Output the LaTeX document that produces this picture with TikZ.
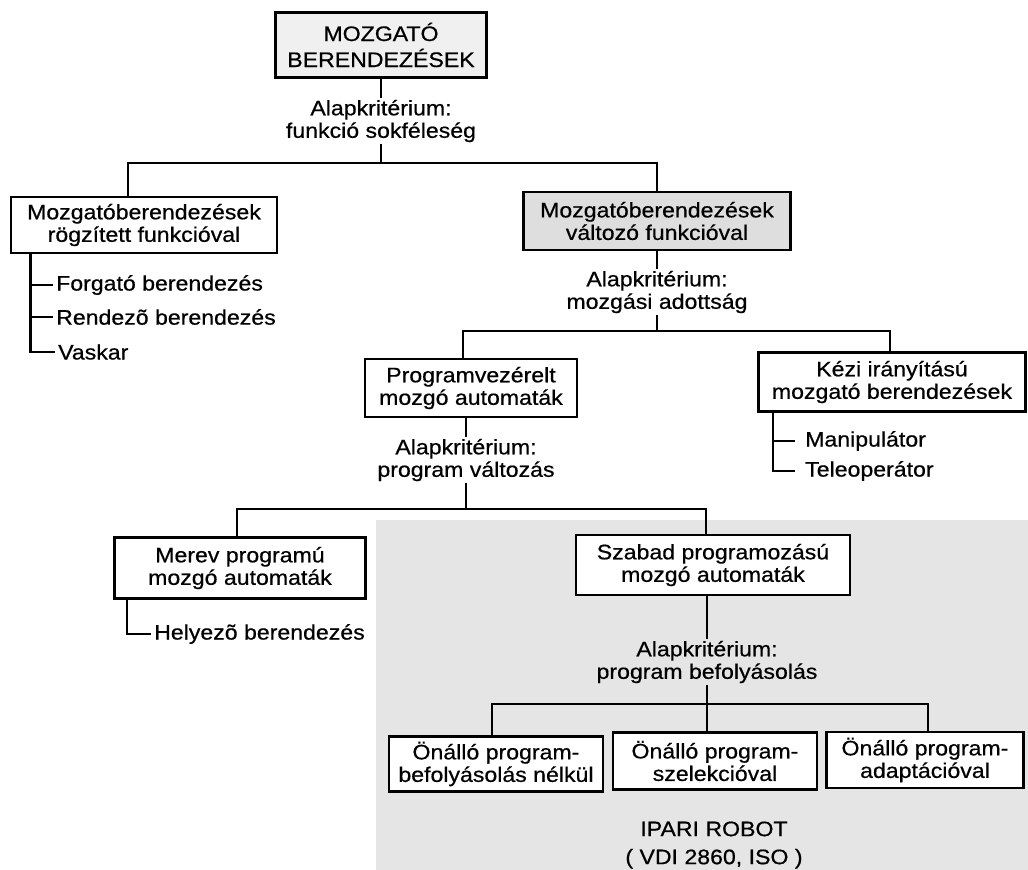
\documentclass[tikz,border=0pt]{standalone}
\usepackage{fontspec}
\setmainfont{Liberation Sans}[FakeStretch=1.1,FakeBold=0.6]
\begin{document}
\begin{tikzpicture}[x=1pt,y=-1pt,
  txt/.style={font=\fontsize{21}{22.5}\selectfont},
  box/.style={draw, line width=2.8pt, align=center, inner sep=0pt, txt, fill=white},
  crit/.style={align=center, inner sep=2pt, txt},
  item/.style={anchor=west, inner sep=3pt, txt},
  conn/.style={line width=2.4pt}]
\useasboundingbox (0,0) rectangle (1028,870);
\fill[white] (0,0) rectangle (1028,870);
\fill[gray!20] (376,520) rectangle (1028,870);

% nodes
\node[box, fill=gray!12, minimum width=211pt, minimum height=65pt,
      font=\fontsize{21}{26}\selectfont] (top) at (381,45) {MOZGATÓ\\BERENDEZÉSEK};
\node[crit] (c1) at (381,121) {Alapkritérium:\\funkció sokféleség};
\coordinate (h1) at (381,163);

\node[box, minimum width=266pt, minimum height=56pt] (rogz) at (144,225)
  {Mozgatóberendezések\\rögzített funkcióval};
\node[box, fill=gray!26, minimum width=267pt, minimum height=58pt] (valt) at (657,221)
  {Mozgatóberendezések\\változó funkcióval};

\node[item] (f1) at (53,285) {Forgató berendezés};
\node[item] (f2) at (53,317) {Rendezõ berendezés};
\node[item] (f3) at (55,352) {Vaskar};
\coordinate (tr1) at ([xshift=21pt]rogz.south west);

\node[crit] (c2) at (657,292) {Alapkritérium:\\mozgási adottság};
\coordinate (h2) at (657,331);

\node[box, minimum width=212pt, minimum height=58pt] (prog) at (471,388)
  {Programvezérelt\\mozgó automaták};
\node[box, minimum width=267pt, minimum height=59pt] (kezi) at (892,382)
  {Kézi irányítású\\mozgató berendezések};

\node[item, inner sep=10pt] (m1) at (795,441) {Manipulátor};
\node[item, inner sep=10pt] (m2) at (795,471) {Teleoperátor};
\coordinate (tr2) at ([xshift=16pt]kezi.south west);

\node[crit] (c3) at (466,460) {Alapkritérium:\\program változás};
\coordinate (h3) at (466,509);

\node[box, minimum width=251pt, minimum height=61pt] (merev) at (240,568)
  {Merev programú\\mozgó automaták};
\node[box, minimum width=274pt, minimum height=60pt] (szab) at (713,565)
  {Szabad programozású\\mozgó automaták};

\node[item] (hly) at (151,634) {Helyezõ berendezés};
\coordinate (tr3) at ([xshift=14pt]merev.south west);

\node[crit] (c4) at (707,662) {Alapkritérium:\\program befolyásolás};
\coordinate (h4) at (707,704);

\node[box, minimum width=214pt, minimum height=55pt] (b1) at (496,764)
  {Önálló program-\\befolyásolás nélkül};
\node[box, minimum width=204pt, minimum height=57pt] (b2) at (715,761)
  {Önálló program-\\szelekcióval};
\node[box, minimum width=197pt, minimum height=56pt] (b3) at (925,760)
  {Önálló program-\\adaptációval};

\node[crit, font=\fontsize{21}{28}\selectfont] (ipari) at (714,845)
  {IPARI ROBOT\\( VDI 2860, ISO )};

% connectors
\draw[conn] (top.south) -- (c1.north);
\draw[conn] (c1.south) -- (h1);
\draw[conn] ([xshift=-16pt]rogz.north) |- (h1) -| (valt.north);

\draw[conn] (tr1) |- (f3.west);
\draw[conn] (tr1 |- f1.west) -- (f1.west);
\draw[conn] (tr1 |- f2.west) -- (f2.west);

\draw[conn] (valt.south) -- (c2.north);
\draw[conn] (c2.south) -- (h2);
\draw[conn] ([xshift=-8pt]prog.north) |- (h2) -| ([xshift=-2pt]kezi.north);

\draw[conn] (tr2) |- (m2.west);
\draw[conn] (tr2 |- m1.west) -- (m1.west);

\draw[conn] ([xshift=-5pt]prog.south) -- ([xshift=-5pt]prog.south |- c3.north);
\draw[conn] (c3.south) -- (h3);
\draw[conn] ([xshift=-3pt]merev.north) |- (h3) -| ([xshift=-7pt]szab.north);

\draw[conn] (tr3) |- (hly.west);

\draw[conn] (c4.north |- szab.south) -- (c4.north);
\draw[conn] (c4.south) -- (h4);
\draw[conn] ([xshift=-4pt]b1.north) |- (h4) -| ([xshift=3pt]b3.north);
\draw[conn] (h4) -- (h4 |- b2.north);
\end{tikzpicture}
\end{document}
